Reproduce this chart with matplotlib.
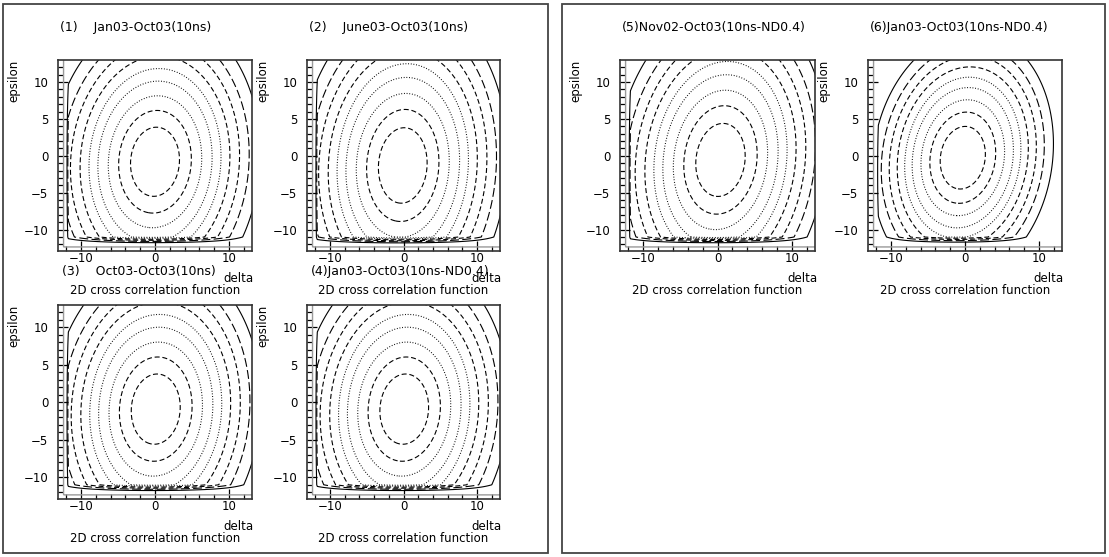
import matplotlib
matplotlib.use("Agg")
import matplotlib.pyplot as plt
from matplotlib.patches import Rectangle
import numpy as np

W, H = 1109, 557

# --- data ---
titles = ["(1)    Jan03-Oct03(10ns)", "(2)    June03-Oct03(10ns)",
          "(3)    Oct03-Oct03(10ns)", "(4)Jan03-Oct03(10ns-ND0.4)",
          "(5)Nov02-Oct03(10ns-ND0.4)", "(6)Jan03-Oct03(10ns-ND0.4)"]
# ellipse centre (delta, epsilon), axis ratio eps/delta, tilt, radial shape
center_delta = [0.0, -0.1, 0.1, 0.1, 0.4, -0.3]
center_eps = [-0.8, -1.3, -0.9, -0.9, -0.55, -0.25]
axis_ratio = [1.42, 1.55, 1.42, 1.42, 1.50, 1.40]
tilt = [0.04, 0.04, 0.04, 0.04, 0.07, 0.08]
radial_scale = [1.0, 1.0, 1.0, 1.0, 1.0, 1.03]
radial_power = [1.0, 1.0, 1.0, 1.0, 1.0, 1.05]
# contour levels (inner -> outer) and their PAW line styles
levels = [3.3, 4.9, 6.3, 7.7, 8.9, 10.1, 11.4, 12.7, 14.2]
level_styles = ["dashed", "dashed", "dotted", "dotted", "dotted",
                "dashed", "dashed", "longdash", "solid"]
edge_cut = -12.0       # window edge of the correlation in delta and epsilon
xticks_major = [-10, 0, 10]
yticks_major = [-10, -5, 0, 5, 10]

# --- layout (pixels) ---
axes_px = [(58, 60, 252, 251), (307, 60, 500, 251),
           (58, 305, 252, 499), (307, 305, 500, 499),
           (620, 60, 815, 251), (868, 60, 1062, 251)]
frames_px = [(3, 4, 548, 553), (562, 4, 1105, 553)]

dash_map = {"dashed": (0, (4.5, 2.5)), "dotted": (0, (0.8, 1.6)),
            "longdash": (0, (8, 3)), "solid": "solid"}

plt.rcParams["font.family"] = ["DejaVu Sans"]
FS = 8.5

fig = plt.figure(figsize=(W / 100, H / 100), dpi=100)


def fx(px):
    return px / W


def fy(py):
    return 1 - py / H


def edge(g, u, w_in, peak=17.0):
    # correlation collapses at the window edge: field rises past the last level
    ramp = np.clip((w_in - u) / (w_in + 0.1), 0, 1)
    return g + (peak - g) * ramp


grid = np.linspace(-13.2, 13.2, 265)
X, Y = np.meshgrid(grid, grid)
edge_dist = np.minimum(X - edge_cut, Y - edge_cut)

for i, (l, t, r, b) in enumerate(axes_px):
    ax = fig.add_axes([fx(l), fy(b), fx(r - l), (b - t) / H])
    dy = (Y - center_eps[i]) / axis_ratio[i]
    dx = X - center_delta[i] - tilt[i] * (Y - center_eps[i])
    G = radial_scale[i] * np.hypot(dx, dy) ** radial_power[i]
    G = edge(G, X - edge_cut, 0.3)
    G = edge(G, Y - edge_cut, 1.0)
    ax.contour(X, Y, G, levels=levels, colors="black", linewidths=0.8,
               linestyles=[dash_map[s] for s in level_styles])
    ax.contour(X, Y, edge_dist, levels=[-0.35], colors="#999999",
               linewidths=1.0, linestyles="solid")
    ax.set_xlim(-13.1, 13.1)
    ax.set_ylim(-12.9, 13.0)
    ax.set_xticks(xticks_major)
    ax.set_xticks(np.arange(-12, 13, 2), minor=True)
    ax.set_yticks(yticks_major)
    ax.set_yticks(np.arange(-12, 13, 1), minor=True)
    ax.tick_params(which="both", direction="in", top=False, right=False,
                   labelsize=8.5, width=0.9)
    ax.tick_params(axis="y", pad=7)
    ax.tick_params(axis="x", pad=1)
    ax.tick_params(which="major", length=7)
    ax.tick_params(which="minor", length=3.5)
    for sp in ax.spines.values():
        sp.set_linewidth(1.2)
        sp.set_color("#333333")

    cx = (l + r) / 2
    top_row = i in (0, 1, 4, 5)
    fig.text(fx(l + 2 if top_row else l + 4), fy(t - 33),
             titles[i], fontsize=9, ha="left", va="center")
    fig.text(fx(l - 44), fy(t), "epsilon", rotation=90, fontsize=FS,
             ha="center", va="top")
    fig.text(fx(r + 2), fy(b + 27), "delta", fontsize=FS, ha="right",
             va="center")
    fig.text(fx(cx), fy(b + 39), "2D cross correlation function",
             fontsize=FS, ha="center", va="center")

for (l, t, r, b) in frames_px:
    fig.add_artist(Rectangle((fx(l), fy(b)), fx(r - l), (b - t) / H,
                             transform=fig.transFigure, fill=False,
                             edgecolor="#444444", linewidth=1.3))

fig.savefig("out.png", dpi=100)
